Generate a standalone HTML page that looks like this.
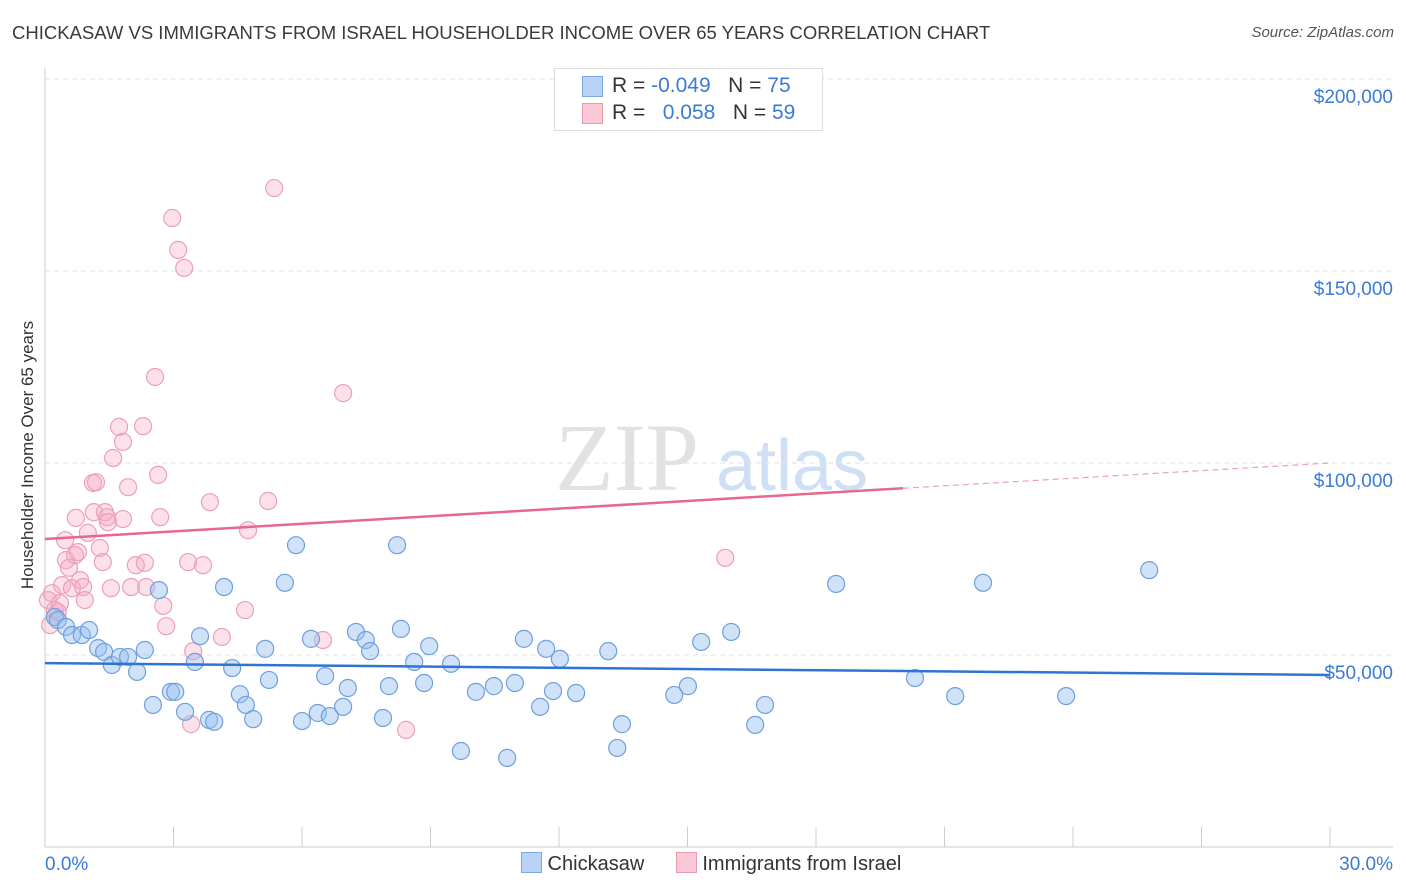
<!DOCTYPE html>
<html><head><meta charset="utf-8"><style>
body{margin:0;background:#fff;font-family:"Liberation Sans",sans-serif;}
#wrap{position:relative;width:1406px;height:892px;overflow:hidden;}
.t{position:absolute;white-space:nowrap;}
</style></head><body>
<div id="wrap">
<div class="t" style="left:12px;top:22px;font-size:18.5px;color:#3a3a3a;">CHICKASAW VS IMMIGRANTS FROM ISRAEL HOUSEHOLDER INCOME OVER 65 YEARS CORRELATION CHART</div>
<div class="t" style="right:12px;top:24px;font-size:15px;color:#555;font-style:italic;">Source: ZipAtlas.com</div>
<div class="t" style="left:28px;top:455px;font-size:17px;color:#333;transform:translate(-50%,-50%) rotate(-90deg);">Householder Income Over 65 years</div>
<svg id="svg" width="1406" height="892" style="position:absolute;left:0;top:0"></svg>
<div style="position:absolute;left:554px;top:68px;width:267px;height:61px;border:1px solid #ddd;background:#fff;font-size:21px;">
 <div style="position:absolute;left:27px;top:7px;width:19px;height:19px;background:#b8d3f5;border:1px solid #7aa8e0;"></div>
 <div class="t" style="left:57px;top:5px;color:#333">R = <span style="color:#3a7bd5">-0.049</span>&nbsp;&nbsp;&nbsp;N = <span style="color:#3a7bd5">75</span></div>
 <div style="position:absolute;left:27px;top:34px;width:19px;height:19px;background:#fbc8d6;border:1px solid #e99ab2;"></div>
 <div class="t" style="left:57px;top:32px;color:#333">R = &nbsp;&nbsp;<span style="color:#3a7bd5">0.058</span>&nbsp;&nbsp;&nbsp;N = <span style="color:#3a7bd5">59</span></div>
</div>
<div style="position:absolute;left:521px;top:852px;font-size:20px;color:#333;white-space:nowrap;">
 <span style="display:inline-block;width:19px;height:19px;background:#b8d3f5;border:1px solid #7aa8e0;vertical-align:-3px"></span> Chickasaw
 <span style="display:inline-block;width:19px;height:19px;background:#fbc8d6;border:1px solid #e99ab2;vertical-align:-3px;margin-left:26px"></span> Immigrants from Israel
</div>
</div>
<script>
const blueX=[0.23,0.30,0.49,0.63,0.86,1.03,1.24,1.38,1.56,1.75,1.94,2.15,2.33,2.52,2.66,2.94,3.04,3.27,3.50,3.62,3.83,3.95,4.18,4.37,4.55,4.69,4.86,5.14,5.23,5.60,5.86,6.00,6.21,6.37,6.54,6.65,6.96,7.07,7.26,7.49,7.59,7.89,8.03,8.22,8.31,8.62,8.85,8.97,9.48,9.71,10.06,10.48,10.79,10.97,11.18,11.56,11.70,11.86,12.02,12.40,13.15,13.36,13.47,14.69,15.01,15.32,16.02,16.58,16.81,18.47,20.31,21.25,21.90,23.84,25.78];
const blueY=[59900,59100,57300,55200,55200,56500,51800,50800,47400,49500,49500,45600,51300,37000,66900,40400,40400,35200,48200,54900,33100,32600,67700,46600,39800,37000,33300,51600,43500,68800,78600,32800,54200,34900,44500,34100,36500,41400,56000,53900,51000,33600,41900,78600,56800,48200,42700,52300,47700,25000,40400,41900,23200,42700,54200,36500,51600,40600,49000,40100,51000,25800,32000,39600,41900,53400,56000,31800,37000,68500,44000,39300,68800,39300,72100];
const pinkX=[0.07,0.12,0.16,0.23,0.30,0.35,0.40,0.47,0.49,0.56,0.63,0.70,0.72,0.77,0.82,0.89,0.93,1.00,1.12,1.14,1.19,1.28,1.35,1.40,1.45,1.47,1.54,1.59,1.73,1.82,1.82,1.94,2.01,2.12,2.29,2.33,2.36,2.57,2.64,2.69,2.76,2.83,2.97,3.11,3.25,3.34,3.41,3.46,3.69,3.85,4.13,4.67,4.74,5.21,5.35,6.49,6.96,8.43,15.88];
const pinkY=[64300,57800,66100,61700,61200,63500,68200,79900,74700,72700,67400,76000,85700,76800,69500,67700,64300,81800,94800,87200,95000,77900,74200,87200,85900,84600,67400,101300,109400,105500,85400,93700,67700,73400,109600,74000,67700,122400,96900,85900,62800,57500,163800,155500,150800,74200,32000,51000,73400,89800,54700,61700,82500,90100,171600,53900,118200,30500,75300];
const yTicks=[50000,100000,150000,200000];
const yTickLabels=["$50,000","$100,000","$150,000","$200,000"];
const blueTrend=[47900,44800];
const pinkTrend=[80200,100000];
const pinkSolidEnd=20.03;
const X=p=>45+p*(1285/30), Y=v=>847-v*192/50000;
const svg=document.getElementById('svg'),NS='http://www.w3.org/2000/svg';
function mk(tag,a,p){const e=document.createElementNS(NS,tag);for(const k in a)e.setAttribute(k,a[k]);(p||svg).appendChild(e);return e;}
let w=mk('text',{x:555,y:490,'font-size':96,fill:'#e2e2e2','font-family':'Liberation Serif,serif'});w.textContent='ZIP';


let w2=mk('text',{x:716,y:490,'font-size':72,fill:'#cfe0f5','font-family':'Liberation Sans,sans-serif'});w2.textContent='atlas';


yTicks.forEach((v,i)=>{
 const g=mk('line',{x1:45,x2:1393,y1:Y(v),y2:Y(v),stroke:'#e0e0e0','stroke-dasharray':'5,4'});
 
 
 const t=mk('text',{x:1393,y:Y(v)+24,'text-anchor':'end','font-size':19,fill:'#3a7bd5','font-family':'Liberation Sans,sans-serif'});t.textContent=yTickLabels[i];
 
 
});
mk('line',{x1:45,x2:45,y1:68,y2:847,stroke:'#ccc'});
mk('line',{x1:45,x2:1393,y1:847,y2:847,stroke:'#ccc'});
for(let i=0;i<=10;i++){const tk=mk('line',{x1:X(i*3),x2:X(i*3),y1:827,y2:847,stroke:'#ccc'});
 
 }
[[0,'0.0%','start',45],[30,'30.0%','end',1393]].forEach(d=>{const t=mk('text',{x:d[3],y:870,'text-anchor':d[2],'font-size':19,fill:'#3a7bd5','font-family':'Liberation Sans,sans-serif'});t.textContent=d[1];
 
 });
pinkX.forEach((x,i)=>{const c=mk('circle',{cx:X(x),cy:Y(pinkY[i]),r:8.5,fill:'rgba(245,170,195,0.35)',stroke:'#eca0b8','stroke-width':1.2});
 
 });
blueX.forEach((x,i)=>{const c=mk('circle',{cx:X(x),cy:Y(blueY[i]),r:8.5,fill:'rgba(150,190,240,0.45)',stroke:'#6f9fdc','stroke-width':1.2});
 
 });
const bl=mk('line',{x1:X(0),y1:Y(blueTrend[0]),x2:X(30),y2:Y(blueTrend[1]),stroke:'#2f74d0','stroke-width':2.5});


const pv=x=>pinkTrend[0]+(pinkTrend[1]-pinkTrend[0])*x/30;
const pl=mk('line',{x1:X(0),y1:Y(pv(0)),x2:X(pinkSolidEnd),y2:Y(pv(pinkSolidEnd)),stroke:'#e8678f','stroke-width':2.5});


const pd=mk('line',{x1:X(pinkSolidEnd),y1:Y(pv(pinkSolidEnd)),x2:X(30),y2:Y(pv(30)),stroke:'#eea0b8','stroke-width':1.2,'stroke-dasharray':'6,4'});


</script>
</body></html>
